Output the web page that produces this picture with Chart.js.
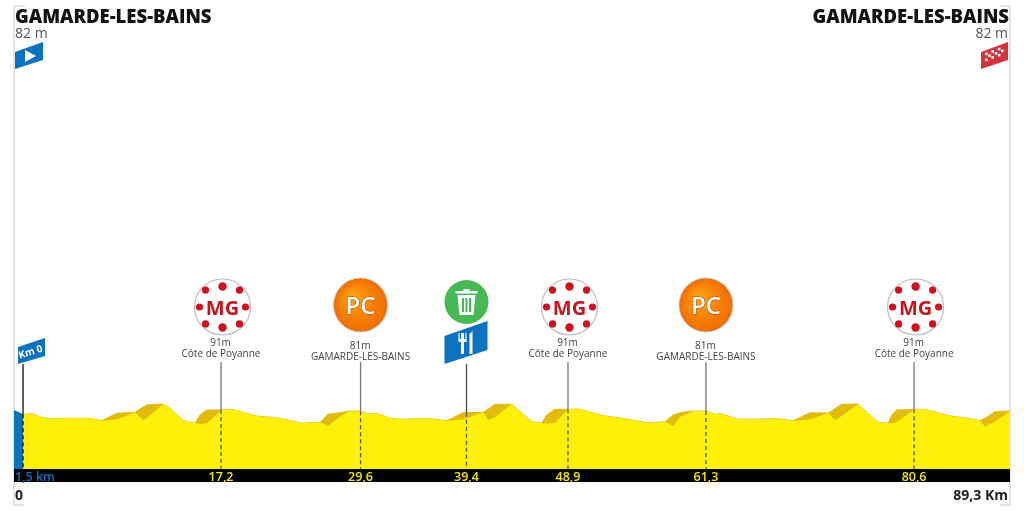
<!DOCTYPE html>
<html>
<head>
<meta charset="utf-8">
<title>Gamarde-les-Bains</title>
<script src="https://cdn.jsdelivr.net/npm/chart.js@4"></script>
<style>
    html, body { margin: 0; padding: 0; background: #fff; }
    canvas { display: block; }
</style>
</head>
<body>
<canvas id="profile" width="1024" height="511"></canvas>
<script>
// road distance along the axis (km) and altitude of the road (m)
const distances = [0.83, 1.59, 2.33, 3.23, 4.72, 6.81, 7.86, 9.21, 10.85, 11.59, 11.9, 13.39, 13.99, 15.18, 16.23, 16.68, 17.28, 18.63, 19.52, 21.76, 23.85, 25.8, 27.44, 28.18, 29.23, 30.13, 31.02, 31.74, 32.52, 33.71, 34.76, 37, 38.8, 40.28, 42.08, 42.53, 43.13, 44.62, 45.21, 46.42, 47.31, 47.76, 48.5, 49.7, 50.6, 52.84, 54.94, 56.87, 58.37, 59.11, 59.71, 60.9, 62.1, 62.85, 63.45, 64.8, 65.69, 68.38, 69.87, 71.37, 73.01, 73.61, 74.21, 75.7, 76.3, 77.49, 78.39, 78.7, 79.14, 80.78, 81.68, 83.92, 86, 86.61, 87.06, 87.95, 89.3];
const altitudes = [77.7, 78.3, 75.3, 73, 73.7, 73.7, 71.3, 78.7, 79.7, 85, 87, 88, 83.7, 71.3, 68.7, 77, 82, 82, 82.7, 76, 73.7, 68.7, 69.7, 78, 79.3, 81, 81, 78, 78.7, 73.7, 72.7, 73.7, 71.3, 79.3, 79.7, 83, 87.7, 87.7, 82, 70.3, 68.7, 77, 82.7, 82.7, 83, 76.3, 73, 69, 70.3, 77, 79.3, 81, 81, 77.7, 78.3, 73, 72.7, 73.3, 71.3, 79.3, 79, 83.3, 87.7, 88, 81.3, 69.7, 68.7, 77, 82, 82.7, 82.7, 76, 73, 71.3, 73.7, 80.3, 81];
// the lit face of the hills, below the road on each climb
const litAltitudes = [77.7, 78.3, 75.3, 73, 73.7, 73.7, 71.3, 72.5, 79.7, 72, 74, 88, 83.7, 71.3, 68.7, 68, 68.5, 82, 82.7, 76, 73.7, 68.7, 69.7, 66, 75.3, 81, 81, 78, 78.7, 73.7, 72.7, 73.7, 71.3, 72.5, 79.7, 72, 75, 87.7, 82, 70.3, 68.7, 68.5, 69, 82.7, 83, 76.3, 73, 69, 70.3, 66, 75, 81, 81, 77.7, 78.3, 73, 72.7, 73.3, 71.3, 72.5, 79, 72, 76, 88, 81.3, 69.7, 68.7, 68.7, 70, 82.7, 82.7, 76, 73, 71.3, 65.3, 70.3, 81];
const neutralDistances = [0, 0.83];
const neutralAltitudes = [82, 77.7];

const checkpointPositions = [18.56, 31.07, 40.57, 49.67, 62.04, 80.7];
const checkpointLabels = ['17,2', '29,6', '39,4', '48,9', '61,3', '80,6'];
const checkpointTypes = ['MG', 'PC', 'FEED', 'MG', 'PC', 'MG'];
const checkpointHeights = ['91m', '81m', '', '91m', '81m', '91m'];
const checkpointNames = ['Côte de Poyanne', 'GAMARDE-LES-BAINS', '', 'Côte de Poyanne', 'GAMARDE-LES-BAINS', 'Côte de Poyanne'];
const kmZeroPosition = 0.81;

const toPoints = (xs, ys) => xs.map((x, i) => ({ x: x, y: ys[i] }));

const roadPixel = (scales, km) => {
    let i = distances.findIndex(d => d >= km);
    if (i < 1) i = 1;
    const t = (km - distances[i - 1]) / (distances[i] - distances[i - 1]);
    return scales.y.getPixelForValue(altitudes[i - 1] + t * (altitudes[i] - altitudes[i - 1]));
};

const tracePoly = (ctx, pts) => {
    ctx.beginPath();
    pts.forEach((p, i) => i ? ctx.lineTo(p[0], p[1]) : ctx.moveTo(p[0], p[1]));
    ctx.closePath();
};

const poly = (ctx, pts, color) => {
    tracePoly(ctx, pts);
    ctx.fillStyle = color;
    ctx.fill();
};

const text = (ctx, str, x, y, font, color, align) => {
    ctx.font = font;
    ctx.fillStyle = color;
    ctx.textAlign = align || 'left';
    ctx.textBaseline = 'alphabetic';
    ctx.fillText(str, x, y);
};

const drawMountain = (ctx, x, y) => {
    ctx.beginPath();
    ctx.arc(x, y, 28, 0, Math.PI * 2);
    ctx.fillStyle = '#fff';
    ctx.fill();
    ctx.lineWidth = 1.2;
    ctx.strokeStyle = '#bdbdbd';
    ctx.stroke();
    for (let a = 0; a < 8; a++) {
        const ang = a * Math.PI / 4;
        const big = a === 2 || a === 6;
        const r = a % 2 ? 24 : 22.5;
        ctx.beginPath();
        ctx.arc(x + Math.cos(ang) * (a % 4 === 0 ? 23 : r), y + Math.sin(ang) * (a % 4 === 2 ? 20.5 : r), big ? 4.2 : 3.6, 0, Math.PI * 2);
        ctx.fillStyle = '#d0101c';
        ctx.fill();
    }
    text(ctx, 'MG', x, y + 7.5, 'bold 20px "Open Sans"', '#c8141e', 'center');
};

const drawSprint = (ctx, x, y) => {
    const grad = ctx.createRadialGradient(x - 8, y - 8, 4, x, y, 27);
    grad.addColorStop(0, '#ff9d12');
    grad.addColorStop(1, '#f06c00');
    ctx.beginPath();
    ctx.arc(x, y, 27, 0, Math.PI * 2);
    ctx.fillStyle = grad;
    ctx.fill();
    ctx.lineWidth = 1;
    ctx.strokeStyle = '#c9c9c9';
    ctx.stroke();
    ctx.font = '600 24px "Open Sans"';
    ctx.textAlign = 'center';
    ctx.lineWidth = 1;
    ctx.strokeStyle = '#a85000';
    ctx.strokeText('PC', x, y + 8.5);
    text(ctx, 'PC', x, y + 8.5, '600 24px "Open Sans"', '#fff', 'center');
};

const drawFeed = (ctx, x) => {
    // green bin sign
    ctx.beginPath();
    ctx.arc(x, 302, 22, 0, Math.PI * 2);
    ctx.fillStyle = '#45b955';
    ctx.fill();
    ctx.fillStyle = '#fff';
    ctx.fillRect(x - 11, 291, 22, 2.5);
    ctx.fillRect(x - 3, 289, 6, 2);
    poly(ctx, [[x - 9, 295], [x + 9, 295], [x + 7, 315], [x - 7, 315]], '#fff');
    ctx.fillStyle = '#45b955';
    [-4.5, -1, 2.5].forEach(d => ctx.fillRect(x + d, 298, 2, 14));
    // blue feed zone sign
    poly(ctx, [[x - 22, 336], [x + 21, 321], [x + 21, 350], [x - 22, 364]], '#0a72c0');
    ctx.fillStyle = '#fff';
    ctx.fillRect(x - 5.5, 333, 3, 21);
    ctx.fillRect(x - 8, 333, 1.2, 8);
    ctx.fillRect(x - 1.2, 333, 1.2, 8);
    ctx.fillRect(x - 8, 339, 8, 3);
    ctx.fillRect(x + 3, 341, 3, 13);
    poly(ctx, [[x + 3, 342], [x + 3, 334], [x + 6, 331], [x + 6, 342]], '#fff');
};

const drawFlags = (ctx, scales) => {
    // start
    poly(ctx, [[15, 52], [43, 42], [43, 60], [15, 69]], '#0a72c0');
    poly(ctx, [[25, 50], [36, 56], [25, 62]], '#fff');
    // finish
    const finish = [[981, 52], [1008, 42], [1008, 60], [981, 69]];
    poly(ctx, finish, '#d3343c');
    ctx.save();
    tracePoly(ctx, finish);
    ctx.clip();
    ctx.fillStyle = '#fff';
    for (let c = 0; c < 6; c++) {
        for (let r = 0; r < 3; r++) {
            if ((c + r) % 2 === 0) {
                const px = 985 + c * 3.2;
                ctx.fillRect(px, 54 - (px - 981) * 0.37 + r * 3, 2.6, 2.6);
            }
        }
    }
    ctx.restore();
    // km 0
    const kx = scales.x.getPixelForValue(kmZeroPosition);
    poly(ctx, [[18, 347], [45, 338], [45, 356], [18, 364]], '#0a72c0');
    ctx.save();
    ctx.translate(31.5, 355);
    ctx.rotate(-0.31);
    text(ctx, 'Km 0', 0, 0, 'bold 10px "Open Sans"', '#fff', 'center');
    ctx.restore();
    ctx.strokeStyle = '#111';
    ctx.lineWidth = 1.3;
    ctx.beginPath();
    ctx.moveTo(kx, 364);
    ctx.lineTo(kx, roadPixel(scales, kmZeroPosition));
    ctx.stroke();
    ctx.setLineDash([4, 3]);
    ctx.beginPath();
    ctx.moveTo(kx, roadPixel(scales, kmZeroPosition));
    ctx.lineTo(kx, scales.y.bottom);
    ctx.stroke();
    ctx.setLineDash([]);
};

const decorations = {
    id: 'decorations',
    beforeDraw(chart) {
        const ctx = chart.ctx;
        const area = chart.chartArea;
        ctx.save();
        ctx.fillStyle = '#fff';
        ctx.fillRect(0, 0, chart.width, chart.height);
        // frame
        ctx.strokeStyle = '#dcdcdc';
        ctx.lineWidth = 1.5;
        ctx.beginPath();
        ctx.moveTo(25, 6);
        ctx.lineTo(area.left, 6);
        ctx.lineTo(area.left, 505);
        ctx.lineTo(24, 505);
        ctx.moveTo(1000, 6);
        ctx.lineTo(area.right, 6);
        ctx.lineTo(area.right, 505);
        ctx.lineTo(1000, 505);
        ctx.stroke();
        // kilometre band
        ctx.fillStyle = '#000';
        ctx.fillRect(area.left, area.bottom, area.right - area.left, 13);
        ctx.restore();
    },
    afterDraw(chart) {
        const ctx = chart.ctx;
        const scales = chart.scales;
        const area = chart.chartArea;
        ctx.save();
        text(ctx, 'GAMARDE-LES-BAINS', 15, 23, '800 18.5px "Open Sans"', '#111');
        text(ctx, 'GAMARDE-LES-BAINS', 1009, 23, '800 18.5px "Open Sans"', '#111', 'right');
        text(ctx, '82 m', 15, 38, '14px "Open Sans"', '#555');
        text(ctx, '82 m', 1008, 38, '14px "Open Sans"', '#555', 'right');
        text(ctx, '1,5 km', 15, area.bottom + 12, '600 12.5px "Open Sans"', '#0a72c0');
        text(ctx, '0', 15, 500, 'bold 14px "Open Sans"', '#222');
        text(ctx, '89,3 Km', 1008, 500, 'bold 14px "Open Sans"', '#222', 'right');
        drawFlags(ctx, scales);

        checkpointPositions.forEach((km, i) => {
            const x = scales.x.getPixelForValue(km);
            const road = roadPixel(scales, km);
            const top = checkpointTypes[i] === 'FEED' ? 364 : 362;
            ctx.strokeStyle = checkpointTypes[i] === 'FEED' ? '#444' : '#777';
            ctx.lineWidth = 1.3;
            ctx.beginPath();
            ctx.moveTo(x, top);
            ctx.lineTo(x, road);
            ctx.stroke();
            ctx.strokeStyle = '#555';
            ctx.setLineDash([4, 3]);
            ctx.beginPath();
            ctx.moveTo(x, road);
            ctx.lineTo(x, area.bottom);
            ctx.stroke();
            ctx.setLineDash([]);

            if (checkpointTypes[i] === 'MG') drawMountain(ctx, x + 1.5, 307);
            if (checkpointTypes[i] === 'PC') drawSprint(ctx, x, 305);
            if (checkpointTypes[i] === 'FEED') drawFeed(ctx, x);
            if (checkpointHeights[i]) {
                const dy = checkpointTypes[i] === 'PC' ? 3 : 0;
                text(ctx, checkpointHeights[i], x - 0.5, 346 + dy, '10px "Open Sans"', '#444', 'center');
                text(ctx, checkpointNames[i], x, 357 + dy, '10px "Open Sans"', '#444', 'center');
            }
        });
        ctx.restore();
    }
};

new Chart(document.getElementById('profile').getContext('2d'), {
    type: 'line',
    plugins: [decorations],
    data: {
        // the first dataset is painted last
        datasets: [
            { label: 'lit', data: toPoints(distances, litAltitudes), backgroundColor: '#fff00a', borderColor: '#fff00a', borderWidth: 0, fill: 'start', pointRadius: 0 },
            { label: 'road', data: toPoints(distances, altitudes), backgroundColor: '#e2bc0c', borderColor: '#e2bc0c', borderWidth: 1, fill: 'start', pointRadius: 0 },
            { label: 'neutral', data: toPoints(neutralDistances, neutralAltitudes), backgroundColor: '#0a72c0', borderColor: '#0a72c0', borderWidth: 0, fill: 'start', pointRadius: 0 }
        ]
    },
    options: {
        responsive: false,
        animation: false,
        events: [],
        layout: { padding: { left: 14, right: 14, top: 15, bottom: 0 } },
        plugins: { legend: { display: false }, tooltip: { enabled: false } },
        scales: {
            x: {
                type: 'linear',
                min: 0,
                max: 89.3,
                afterFit: scale => { scale.height = 42; },
                afterBuildTicks: scale => { scale.ticks = checkpointPositions.map(v => ({ value: v })); },
                grid: { display: false, drawTicks: false },
                border: { display: false },
                ticks: {
                    autoSkip: false,
                    maxRotation: 0,
                    padding: 1,
                    color: '#f4e70a',
                    font: { family: '"Open Sans"', size: 12.5, weight: '600' },
                    callback: (value, index) => checkpointLabels[index]
                }
            },
            y: { display: false, min: 23, max: 477 }
        }
    }
});
</script>
</body>
</html>
